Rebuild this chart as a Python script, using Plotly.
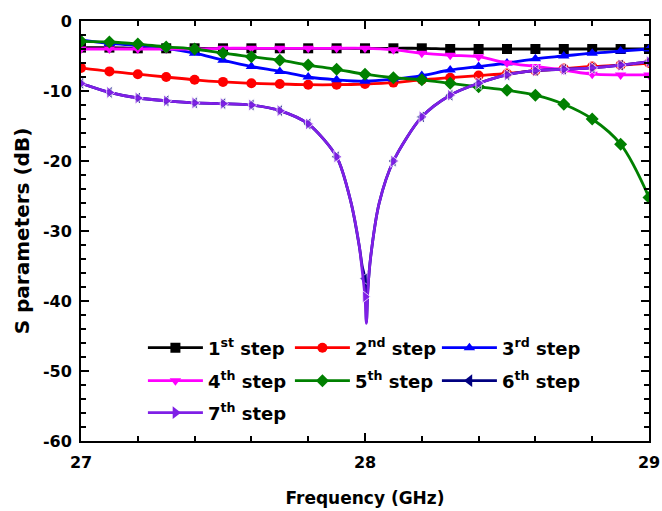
import plotly.graph_objects as go

freq = [27.0, 27.1, 27.2, 27.3, 27.4, 27.5, 27.6, 27.7, 27.8, 27.9, 28.0,
        28.1, 28.2, 28.3, 28.4, 28.5, 28.6, 28.7, 28.8, 28.9, 29.0]

s1 = [-3.8, -3.8, -3.9, -3.9, -3.9, -3.9, -3.9, -3.9, -3.9, -3.9, -3.9,
      -3.9, -3.9, -4.0, -4.0, -4.0, -4.0, -4.0, -4.0, -4.0, -4.0]
s2 = [-6.7, -7.2, -7.6, -8.0, -8.4, -8.7, -8.9, -9.0, -9.1, -9.1, -9.0,
      -8.8, -8.4, -8.1, -7.8, -7.5, -7.1, -6.8, -6.5, -6.3, -6.0]
s3 = [-2.7, -3.2, -3.5, -3.9, -4.6, -5.6, -6.5, -7.2, -8.0, -8.4, -8.6,
      -8.3, -7.8, -7.0, -6.5, -6.0, -5.4, -5.0, -4.6, -4.3, -4.0]
s4 = [-4.0, -4.0, -4.0, -4.0, -4.0, -3.9, -3.9, -3.9, -3.9, -3.9, -3.9,
      -4.1, -4.6, -4.9, -5.1, -6.0, -6.5, -7.0, -7.6, -7.7, -7.7]
s5 = [-2.9, -3.0, -3.3, -3.7, -4.0, -4.6, -5.1, -5.6, -6.3, -6.9, -7.6,
      -8.1, -8.4, -8.9, -9.4, -9.9, -10.6, -11.9, -14.0, -17.6, -25.2]
s6 = [-8.9, -10.2, -11.0, -11.4, -11.7, -11.8, -12.0, -12.8, -14.7, -19.4, -36.8,
      -20.0, -13.7, -10.6, -8.9, -7.7, -7.1, -6.9, -6.7, -6.3, -5.8]
s7 = [-8.9, -10.2, -11.0, -11.4, -11.7, -11.8, -12.0, -12.8, -14.7, -19.4, -39.4,
      -20.0, -13.7, -10.6, -8.9, -7.7, -7.1, -6.9, -6.7, -6.3, -5.8]

# extra line points around the sharp resonance (no markers)
dip_freq = [27.95, 27.98, 27.99, 28.005, 28.01, 28.02, 28.05]
dip6 = [-25.8, -32.2, -35.0, -43.0, -38.4, -33.7, -26.0]
dip7 = [-25.8, -32.2, -35.6, -43.2, -38.4, -33.7, -26.0]

x_ticks = [27, 28, 29]
x_ticktext = ["27", "28", "29"]
y_ticks = [0, -10, -20, -30, -40, -50, -60]
y_ticktext = ["0", "-10", "-20", "-30", "-40", "-50", "-60"]

names = ["1<sup>st</sup> step", "2<sup>nd</sup> step", "3<sup>rd</sup> step",
         "4<sup>th</sup> step", "5<sup>th</sup> step", "6<sup>th</sup> step",
         "7<sup>th</sup> step"]
colors = ["#000000", "#FF0000", "#0000FF", "#FF00FF", "#008000", "#000080", "#7F1FE6"]
symbols = ["square", "circle", "triangle-up", "triangle-down", "diamond",
           "triangle-left", "triangle-right"]
legend_rows = ["legend", "legend", "legend", "legend2", "legend2", "legend2", "legend3"]

MS = 10
MS_TRI = 11
LW = 2.8

fig = go.Figure()
for i, ys in enumerate([s1, s2, s3, s4, s5]):
    fig.add_trace(go.Scatter(
        x=freq, y=ys, name=names[i], mode="lines+markers", legend=legend_rows[i],
        line=dict(color=colors[i], width=LW, shape="spline", smoothing=1),
        marker=dict(symbol=symbols[i], size=MS, color=colors[i]),
    ))

for i, (ys, dp) in enumerate([(s6, dip6), (s7, dip7)]):
    k = 5 + i
    pts = sorted([(f, v, MS_TRI) for f, v in zip(freq, ys)] +
                 [(f, v, 0) for f, v in zip(dip_freq, dp)])
    fig.add_trace(go.Scatter(
        x=[p[0] for p in pts], y=[p[1] for p in pts], mode="lines+markers",
        showlegend=False,
        line=dict(color=colors[k], width=LW, shape="spline", smoothing=0.8),
        marker=dict(symbol=symbols[k], size=[p[2] for p in pts], color=colors[k]),
    ))

for k in [5, 6]:
    fig.add_trace(go.Scatter(
        x=[None], y=[None], name=names[k], mode="lines+markers", legend=legend_rows[k],
        line=dict(color=colors[k], width=LW),
        marker=dict(symbol=symbols[k], size=MS_TRI, color=colors[k]),
    ))

FONT = "DejaVu Sans, Arial, sans-serif"
axis_common = dict(
    showline=True, linecolor="black", linewidth=2, mirror="ticks",
    ticks="inside", ticklen=8, tickwidth=2, tickcolor="black",
    showgrid=False, zeroline=False, automargin=False,
    tickfont=dict(family=FONT, size=16, color="black", weight="bold"),
)

leg_common = dict(orientation="h", xanchor="left", yanchor="middle",
                  entrywidth=77, entrywidthmode="pixels", itemwidth=55,
                  bgcolor="rgba(0,0,0,0)",
                  font=dict(family=FONT, size=18, color="black", weight="bold"))

fig.update_layout(
    width=662, height=511,
    margin=dict(l=81, r=13, t=21, b=70),
    paper_bgcolor="white", plot_bgcolor="white",
    font=dict(family=FONT, color="black"),
    xaxis=dict(range=[27, 29], tickmode="array", tickvals=x_ticks, ticktext=x_ticktext,
               ticklabelstandoff=6,
               minor=dict(dtick=0.2, ticks="inside", ticklen=5, tickwidth=1.5, tickcolor="black"),
               title=dict(text="Frequency (GHz)", standoff=21,
                          font=dict(family=FONT, size=17, color="black", weight="bold")),
               **axis_common),
    yaxis=dict(range=[-60, 0], tickmode="array", tickvals=y_ticks, ticktext=y_ticktext,
               ticklabelstandoff=4,
               minor=dict(dtick=2, ticks="inside", ticklen=5, tickwidth=1.5, tickcolor="black"),
               title=dict(text="S parameters (dB)", standoff=8,
                          font=dict(family=FONT, size=20, color="black", weight="bold")),
               **axis_common),
    legend=dict(x=0.109, y=0.2214, **leg_common),
    legend2=dict(x=0.109, y=0.1429, **leg_common),
    legend3=dict(x=0.109, y=0.0667, **leg_common),
)

fig.write_html("out.html")
